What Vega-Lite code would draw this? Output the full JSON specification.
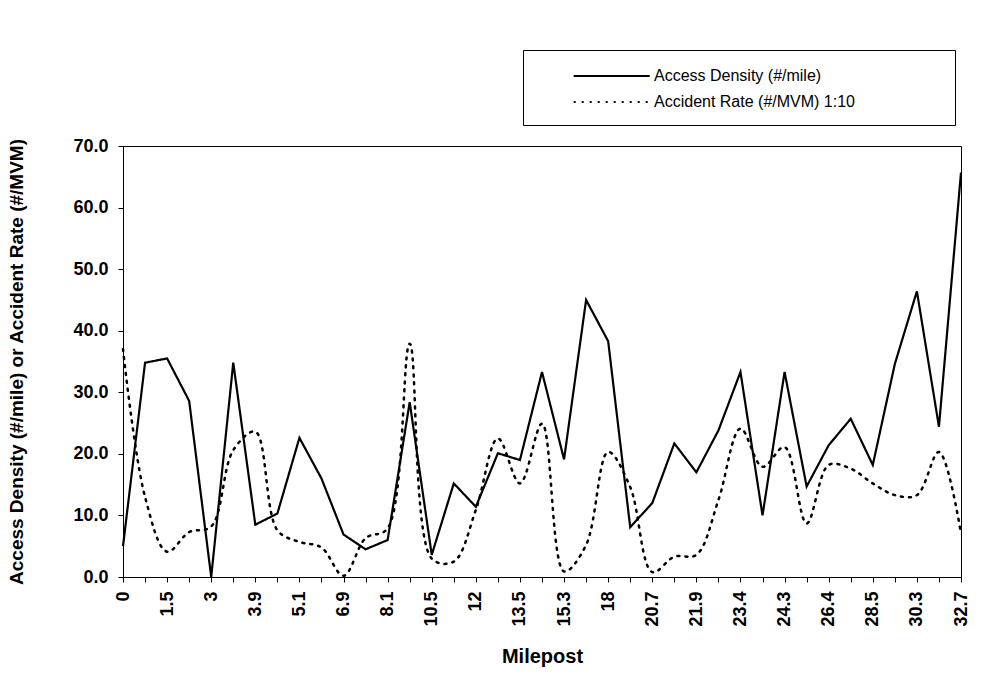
{
  "$schema": "https://vega.github.io/schema/vega-lite/v6.json",
  "width": 838,
  "height": 431,
  "autosize": "none",
  "padding": {"left": 123, "top": 146, "right": 35, "bottom": 114},
  "background": "white",
  "config": {
    "font": "Liberation Sans",
    "view": {"stroke": "black", "strokeWidth": 1},
    "axis": {
      "domainColor": "black", "tickColor": "black", "labelColor": "black", "titleColor": "black",
      "grid": false, "labelFont": "Liberation Sans", "titleFont": "Liberation Sans"
    },
    "legend": {"labelFont": "Liberation Sans", "labelColor": "black"}
  },
  "data": {"values": [
    {"idx": 0, "m": "0", "ad": 5.0, "ar": 37.0},
    {"idx": 1, "m": "0.8", "ad": 34.8, "ar": 13.0},
    {"idx": 2, "m": "1.5", "ad": 35.5, "ar": 4.1},
    {"idx": 3, "m": "2.2", "ad": 28.6, "ar": 7.3},
    {"idx": 4, "m": "3", "ad": 0.0, "ar": 8.2},
    {"idx": 5, "m": "3.5", "ad": 34.8, "ar": 20.6},
    {"idx": 6, "m": "3.9", "ad": 8.5, "ar": 23.6},
    {"idx": 7, "m": "4.5", "ad": 10.3, "ar": 7.6},
    {"idx": 8, "m": "5.1", "ad": 22.6, "ar": 5.7},
    {"idx": 9, "m": "6", "ad": 16.0, "ar": 4.8},
    {"idx": 10, "m": "6.9", "ad": 6.9, "ar": 0.2},
    {"idx": 11, "m": "7.5", "ad": 4.5, "ar": 6.3},
    {"idx": 12, "m": "8.1", "ad": 6.0, "ar": 7.9},
    {"idx": 13, "m": "9.3", "ad": 28.4, "ar": 37.9},
    {"idx": 14, "m": "10.5", "ad": 3.6, "ar": 3.0},
    {"idx": 15, "m": "11.2", "ad": 15.2, "ar": 2.5},
    {"idx": 16, "m": "12", "ad": 11.4, "ar": 10.9},
    {"idx": 17, "m": "12.8", "ad": 20.1, "ar": 22.5},
    {"idx": 18, "m": "13.5", "ad": 19.0, "ar": 15.2},
    {"idx": 19, "m": "14.4", "ad": 33.3, "ar": 24.9},
    {"idx": 20, "m": "15.3", "ad": 19.1, "ar": 0.9},
    {"idx": 21, "m": "16.5", "ad": 45.0, "ar": 5.2},
    {"idx": 22, "m": "18", "ad": 38.3, "ar": 20.3},
    {"idx": 23, "m": "19.5", "ad": 8.1, "ar": 14.6},
    {"idx": 24, "m": "20.7", "ad": 12.0, "ar": 0.8},
    {"idx": 25, "m": "21.3", "ad": 21.7, "ar": 3.3},
    {"idx": 26, "m": "21.9", "ad": 17.0, "ar": 3.6},
    {"idx": 27, "m": "22.6", "ad": 23.8, "ar": 12.5},
    {"idx": 28, "m": "23.4", "ad": 33.3, "ar": 24.1},
    {"idx": 29, "m": "23.9", "ad": 10.0, "ar": 17.9},
    {"idx": 30, "m": "24.3", "ad": 33.3, "ar": 21.1},
    {"idx": 31, "m": "25.3", "ad": 14.7, "ar": 8.7},
    {"idx": 32, "m": "26.4", "ad": 21.4, "ar": 18.2},
    {"idx": 33, "m": "27.5", "ad": 25.7, "ar": 17.6},
    {"idx": 34, "m": "28.5", "ad": 18.2, "ar": 15.2},
    {"idx": 35, "m": "29.4", "ad": 34.6, "ar": 13.3},
    {"idx": 36, "m": "30.3", "ad": 46.4, "ar": 13.3},
    {"idx": 37, "m": "31.5", "ad": 24.4, "ar": 20.3},
    {"idx": 38, "m": "32.7", "ad": 65.7, "ar": 7.1}
  ]},
  "encoding": {
    "x": {
      "field": "m", "type": "ordinal",
      "sort": {"field": "idx", "op": "min"},
      "scale": {"type": "point", "padding": 0},
      "axis": {
        "title": "Milepost",
        "labelAngle": -90,
        "labelExpr": "indexof(['0','1.5','3','3.9','5.1','6.9','8.1','10.5','12','13.5','15.3','18','20.7','21.9','23.4','24.3','26.4','28.5','30.3','32.7'], datum.value) >= 0 ? datum.label : ''",
        "labelFontSize": 18, "labelFontWeight": "bold", "labelPadding": 9, "labelOverlap": false,
        "tickSize": 5,
        "titleFontSize": 20, "titleFontWeight": "bold", "titlePadding": 20
      }
    }
  },
  "layer": [
    {
      "mark": {"type": "line", "color": "black", "strokeWidth": 2.2},
      "encoding": {
        "y": {
          "field": "ad", "type": "quantitative",
          "scale": {"domain": [0, 70], "nice": false},
          "axis": {
            "title": "Access Density (#/mile) or Accident Rate (#/MVM)",
            "values": [0, 10, 20, 30, 40, 50, 60, 70], "format": ".1f",
            "labelFontSize": 18, "labelFontWeight": "bold", "labelPadding": 10, "tickSize": 5,
            "titleFontSize": 19, "titleFontWeight": "bold", "titlePadding": 46
          }
        },
        "strokeDash": {
          "datum": "Access Density (#/mile)",
          "scale": {
            "domain": ["Access Density (#/mile)", "Accident Rate (#/MVM) 1:10"],
            "range": [[1, 0], [2, 6]]
          },
          "legend": {
            "title": null,
            "orient": "none", "legendX": 400, "legendY": -96,
            "symbolType": "M2.6,0H10.6", "symbolSize": 361, "symbolStrokeWidth": 2.2,
            "symbolStrokeColor": "black",
            "labelOffset": 94, "labelFontSize": 16, "labelLimit": 600, "rowPadding": 7,
            "strokeColor": "black", "padding": 15, "fillColor": "white",
            "labelExpr": "datum.label + '\u00a0\u00a0\u00a0\u00a0\u00a0\u00a0\u00a0\u00a0\u00a0\u00a0\u00a0\u00a0\u00a0\u00a0\u00a0\u00a0\u00a0\u00a0\u00a0\u200b'"
          }
        }
      }
    },
    {
      "mark": {"type": "line", "color": "black", "strokeWidth": 2.5, "strokeCap": "round", "interpolate": "catmull-rom"},
      "encoding": {
        "y": {"field": "ar", "type": "quantitative", "title": "Access Density (#/mile) or Accident Rate (#/MVM)"},
        "strokeDash": {"datum": "Accident Rate (#/MVM) 1:10"}
      }
    }
  ]
}
